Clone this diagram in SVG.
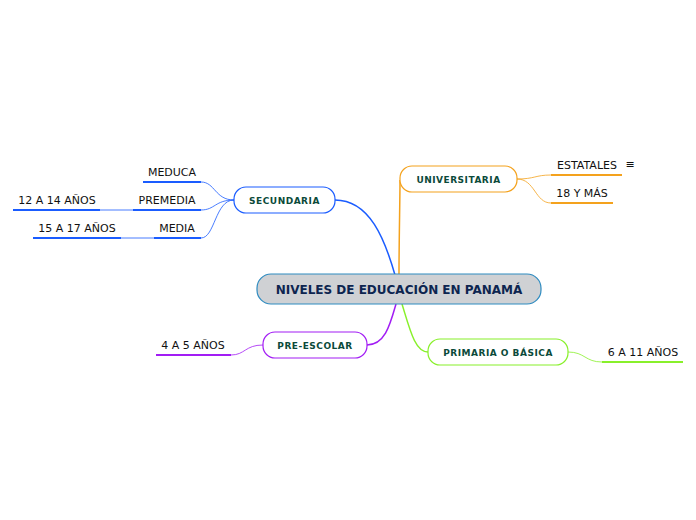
<svg xmlns="http://www.w3.org/2000/svg" width="696" height="520" viewBox="0 0 696 520">
<style>
.node text{font-family:"DejaVu Sans",Verdana,sans-serif;font-weight:bold;font-size:9px;letter-spacing:0.5px;fill:#0b4a3a;text-anchor:middle;dominant-baseline:central}
.leaf text{font-family:"DejaVu Sans",Verdana,sans-serif;font-size:11px;fill:#111;text-anchor:middle}
</style>
<rect width="696" height="520" fill="#fff"/>
<g id="connectors" fill="none">
<path d="M395,275 C385,240 370,200 335,200" stroke="#1a5cff" stroke-width="1.5"/>
<path d="M399,275 C399,240 400,200 400,180" stroke="#f4a21d" stroke-width="1.5"/>
<path d="M396,304 C390,325 385,345 367,345" stroke="#a21df4" stroke-width="1.5"/>
<path d="M402,304 C410,330 415,352 428,352" stroke="#88f02a" stroke-width="1.5"/>
<g stroke="#1a5cff" stroke-width="0.8">
<path d="M234,200 C215,200 215,182 201,182"/>
<path d="M234,200 C215,200 215,210 201,210"/>
<path d="M234,200 C215,200 215,238 201,238"/>
<path d="M133,210 L100,210"/>
<path d="M154,238 L121,238"/>
</g>
<g stroke="#f4a21d" stroke-width="0.8">
<path d="M517,179 C535,179 535,175 551,175"/>
<path d="M517,179 C535,179 535,203 551,203"/>
</g>
<path d="M263,345 C245,345 245,355 231,355" stroke="#a21df4" stroke-width="0.8"/>
<path d="M568,352 C585,352 585,362 602,362" stroke="#88f02a" stroke-width="0.8"/>
</g>
<g id="central">
<rect x="257" y="274" width="284" height="30" rx="14" fill="#cfd1d4" stroke="#2e8bc0" stroke-width="1.2"/>
<text x="399" y="290" font-family="DejaVu Sans,Verdana,sans-serif" font-weight="bold" font-size="12" fill="#0d2550" text-anchor="middle" dominant-baseline="central">NIVELES DE EDUCACIÓN EN PANAMÁ</text>
</g>
<g id="secundaria" class="node">
<rect x="234" y="187" width="101" height="26" rx="12" fill="#fff" stroke="#1a5cff" stroke-width="1.2"/>
<text x="284.5" y="200.5">SECUNDARIA</text>
</g>
<g id="universitaria" class="node">
<rect x="400" y="166" width="117" height="26" rx="12" fill="#fff" stroke="#f4a21d" stroke-width="1.2"/>
<text x="458.5" y="179.5">UNIVERSITARIA</text>
</g>
<g id="preescolar" class="node">
<rect x="263" y="332" width="104" height="26" rx="12" fill="#fff" stroke="#a21df4" stroke-width="1.2"/>
<text x="315" y="345.5">PRE-ESCOLAR</text>
</g>
<g id="primaria" class="node">
<rect x="428" y="339" width="140" height="26" rx="12" fill="#fff" stroke="#88f02a" stroke-width="1.2"/>
<text x="498" y="352.5">PRIMARIA O BÁSICA</text>
</g>
<g id="meduca" class="leaf"><line x1="143" y1="182" x2="201" y2="182" stroke="#1a5cff" stroke-width="2"/><text x="172" y="176">MEDUCA</text></g>
<g id="premedia" class="leaf"><line x1="133" y1="210" x2="201" y2="210" stroke="#1a5cff" stroke-width="2"/><text x="167" y="204">PREMEDIA</text></g>
<g id="a12" class="leaf"><line x1="13" y1="210" x2="100" y2="210" stroke="#1a5cff" stroke-width="2"/><text x="57" y="204">12 A 14 AÑOS</text></g>
<g id="media" class="leaf"><line x1="154" y1="238" x2="201" y2="238" stroke="#1a5cff" stroke-width="2"/><text x="177" y="232">MEDIA</text></g>
<g id="a15" class="leaf"><line x1="33" y1="238" x2="121" y2="238" stroke="#1a5cff" stroke-width="2"/><text x="77" y="232">15 A 17 AÑOS</text></g>
<g id="estatales" class="leaf"><line x1="551" y1="175" x2="622" y2="175" stroke="#f4a21d" stroke-width="2"/><text x="587" y="169">ESTATALES</text><text x="630" y="168" font-size="10">≡</text></g>
<g id="y18" class="leaf"><line x1="551" y1="203" x2="613" y2="203" stroke="#f4a21d" stroke-width="2"/><text x="582" y="197">18 Y MÁS</text></g>
<g id="a4" class="leaf"><line x1="156" y1="355" x2="231" y2="355" stroke="#a21df4" stroke-width="2"/><text x="193" y="349">4 A 5 AÑOS</text></g>
<g id="a6" class="leaf"><line x1="602" y1="362" x2="683" y2="362" stroke="#88f02a" stroke-width="2"/><text x="643" y="356">6 A 11 AÑOS</text></g>
</svg>
